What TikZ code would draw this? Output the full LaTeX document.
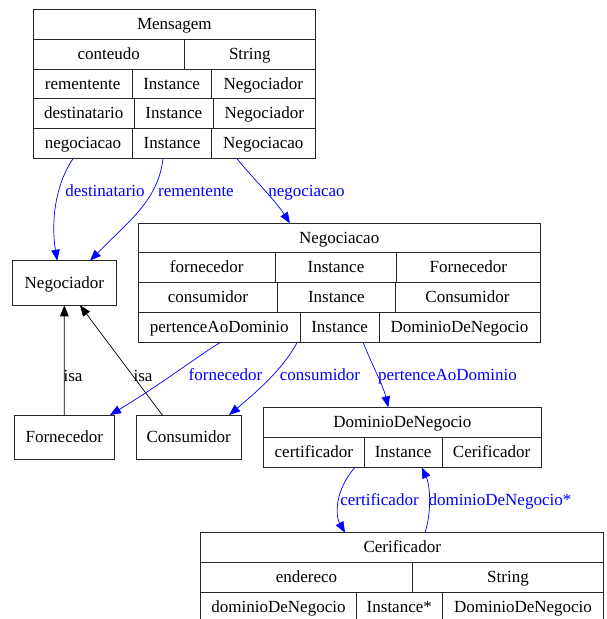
\documentclass[tikz,border=0pt]{standalone}
\usepackage{fontspec}
\setmainfont{Liberation Serif}
\usetikzlibrary{arrows.meta}
\newcommand\tcell[6]{\node[cellbox,minimum width={#4-#2},minimum height={#5-#3}] (#1) at ({(#2+#4)/2},{(#3+#5)/2}) {#6};}
\begin{document}
\begin{tikzpicture}[x=1pt,y=-1pt,
  txt/.style={font=\fontsize{17}{20}\selectfont,text height=13pt,text depth=2.5pt,inner sep=0pt},
  cellbox/.style={txt,draw=black!85,line width=0.9pt,rectangle,outer sep=0pt},
  lbl/.style={txt,text=blue},
  isalbl/.style={txt,text=black},
  rel/.style={draw=blue,line width=0.7pt,-{Triangle[length=11pt,width=8.5pt]}},
  isa/.style={draw=black,line width=0.7pt,-{Triangle[length=11pt,width=8.5pt]}}]
\useasboundingbox (0,0) rectangle (607,619);
% Mensagem
\tcell{mT}{33.3}{9}{315.3}{39}{Mensagem}
\tcell{m1a}{33.3}{39}{184.3}{69}{conteudo}
\tcell{m1b}{184.3}{39}{315.3}{69}{String}
\tcell{m2a}{33.3}{69}{132}{98.7}{rementente}
\tcell{m2b}{132}{69}{211.3}{98.7}{Instance}
\tcell{m2c}{211.3}{69}{315.3}{98.7}{Negociador}
\tcell{m3a}{33.3}{98.7}{134.3}{128.7}{destinatario}
\tcell{m3b}{134.3}{98.7}{213.3}{128.7}{Instance}
\tcell{m3c}{213.3}{98.7}{315.3}{128.7}{Negociador}
\tcell{m4a}{33.3}{128.7}{132.7}{158.7}{negociacao}
\tcell{m4b}{132.7}{128.7}{211.3}{158.7}{Instance}
\tcell{m4c}{211.3}{128.7}{315.3}{158.7}{Negociacao}
% Negociacao
\tcell{nT}{138.3}{223.3}{540}{252.7}{Negociacao}
\tcell{n1a}{138.3}{252.7}{275.3}{282.7}{fornecedor}
\tcell{n1b}{275.3}{252.7}{396.7}{282.7}{Instance}
\tcell{n1c}{396.7}{252.7}{540}{282.7}{Fornecedor}
\tcell{n2a}{138.3}{282.7}{277.7}{312.7}{consumidor}
\tcell{n2b}{277.7}{282.7}{395}{312.7}{Instance}
\tcell{n2c}{395}{282.7}{540}{312.7}{Consumidor}
\tcell{n3a}{138.3}{312.7}{300.3}{342.7}{pertenceAoDominio}
\tcell{n3b}{300.3}{312.7}{379}{342.7}{Instance}
\tcell{n3c}{379}{312.7}{540}{342.7}{DominioDeNegocio}
% simple boxes
\tcell{negr}{12.7}{260.7}{116}{305.3}{Negociador}
\tcell{forn}{14.3}{415}{114.3}{459.3}{Fornecedor}
\tcell{cons}{136}{415}{241.3}{459.3}{Consumidor}
% DominioDeNegocio
\tcell{dT}{263.7}{407.3}{541}{437.3}{DominioDeNegocio}
\tcell{d1a}{263.7}{437.3}{364}{467.3}{certificador}
\tcell{d1b}{364}{437.3}{442.3}{467.3}{Instance}
\tcell{d1c}{442.3}{437.3}{541}{467.3}{Cerificador}
% Cerificador
\tcell{cT}{200.7}{532.7}{603.7}{562.7}{Cerificador}
\tcell{c1a}{200.7}{562.7}{412.3}{592.7}{endereco}
\tcell{c1b}{412.3}{562.7}{603.7}{592.7}{String}
\tcell{c2a}{200.7}{592.7}{356.3}{622.7}{dominioDeNegocio}
\tcell{c2b}{356.3}{592.7}{442.3}{622.7}{Instance*}
\tcell{c2c}{442.3}{592.7}{603.7}{622.7}{DominioDeNegocio}
% edges from Mensagem
\draw[rel] ([xshift=39.7pt]m4a.south west) .. controls (52,190) and (52,230) .. ([xshift=44.6pt]negr.north west);
\node[lbl] (l1) at (105,191.4) {destinatario};
\draw[rel] ([xshift=30.3pt]m4b.south west) .. controls (158,200) and (130,220) .. ([xshift=77.3pt]negr.north west);
\node[lbl] (l2) at (196,191.4) {rementente};
\draw[rel] ([xshift=25.7pt]m4c.south west) .. controls (250,175) and (275,200) .. ([xshift=151.7pt]nT.north west);
\node[lbl] (l3) at (306.5,191.4) {negociacao};
% isa
\draw[isa] (forn.north) -- (negr.south);
\node[isalbl] (l4) at (73,376) {isa};
\draw[isa] ([xshift=26.3pt]cons.north west) -- ([xshift=67.3pt]negr.south west);
\node[isalbl] (l5) at (143,376) {isa};
% edges from Negociacao
\draw[rel] ([xshift=81.7pt]n3a.south west) .. controls (195,358) and (160,385) .. ([xshift=-4.3pt]forn.north east);
\node[lbl] (l6) at (225.5,375) {fornecedor};
\draw[rel] ([xshift=-3.3pt]n3a.south east) .. controls (285,365) and (265,385) .. ([xshift=93pt]cons.north west);
\node[lbl] (l7) at (320,375) {consumidor};
\draw[rel] ([xshift=63pt]n3b.south west) .. controls (372,365) and (383,385) .. ([xshift=124.6pt]dT.north west);
\node[lbl] (l8) at (447.5,375) {pertenceAoDominio};
% Dominio <-> Cerificador
\draw[rel] ([xshift=91.3pt]d1a.south west) .. controls (335,490) and (335,515) .. ([xshift=144.3pt]cT.north west);
\node[lbl] (l9) at (379.5,500.7) {certificador};
\draw[rel] ([xshift=224.3pt]cT.north west) .. controls (432,510) and (430,485) .. ([xshift=57.7pt]d1b.south west);
\node[lbl] (l10) at (500,500.7) {dominioDeNegocio*};
\end{tikzpicture}
\end{document}
